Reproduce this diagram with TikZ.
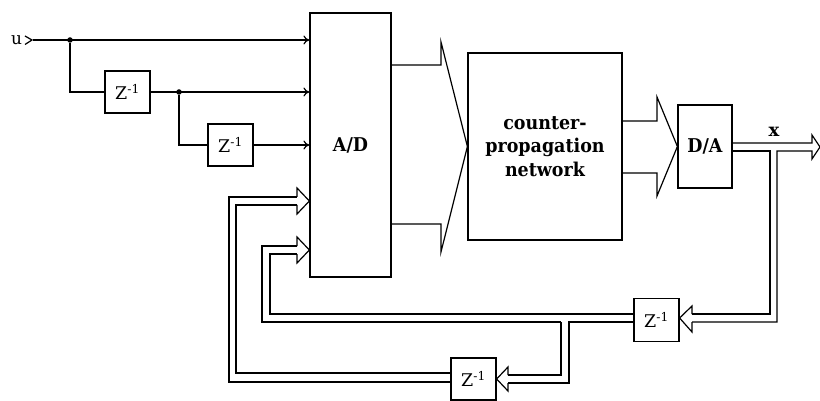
\documentclass[tikz,border=0pt]{standalone}
\usepackage{fontspec}
\setmainfont{DejaVu Serif}
\newfontfamily\lblfont[FakeStretch=0.92]{DejaVu Serif}
\usetikzlibrary{arrows.meta}
\begin{document}
\begin{tikzpicture}[x=1pt,y=-1pt,line width=1.2pt,line join=miter,
  zbox/.style={draw,inner sep=0pt,minimum width=45pt,minimum height=42pt,font=\fontsize{17.5}{20}\selectfont},
  sig/.style={-{To[length=6pt,width=9pt]}},
  dot/.style={circle,fill,inner sep=0pt,minimum size=5.5pt}]
\useasboundingbox (0,0) rectangle (820,401);
% nodes
\node[font=\fontsize{17}{20}\selectfont,inner sep=0pt] (u) at (16.5,40) {u};
\coordinate (uin) at (33,40);
\node[draw,inner sep=0pt,minimum width=81pt,minimum height=264pt,font=\lblfont\fontsize{19}{22}\selectfont\bfseries] (ad) at (350.5,145) {A/D};
\node[draw,inner sep=0pt,minimum width=154pt,minimum height=187pt,align=center,font=\lblfont\fontsize{19}{23.5}\selectfont\bfseries] (net) at (545,146.5) {counter-\\propagation\\network};
\node[draw,inner sep=0pt,minimum width=54pt,minimum height=83pt,font=\lblfont\fontsize{19}{22}\selectfont\bfseries] (da) at (705,146.5) {D/A};
\node[zbox] (z1) at (127.5,92) {Z\textsuperscript{-1}};
\node[zbox] (z2) at (230.5,145) {Z\textsuperscript{-1}};
\node[zbox,minimum height=43pt] (z3) at (656.5,320) {Z\textsuperscript{-1}};
\node[zbox] (z4) at (473.5,379) {Z\textsuperscript{-1}};
\node[font=\fontsize{18}{20}\selectfont\bfseries,inner sep=0pt] (xl) at (774,132) {x};
\node[dot] (j1) at (70,40) {};
\node[dot] (j2) at (179,92) {};
% input chevron
\draw (25,36) -- (32,40) -- (25,44.5);
% thin signal lines
\draw[sig] (uin) -- (ad.west |- uin);
\draw (j1) |- (z1.west);
\draw[sig] (z1.east) -- (ad.west |- z1.east);
\draw (j2) |- (z2.west);
\draw[sig] (z2.east) -- (ad.west |- z2.east);
% wide arrow A/D -> network
\draw (ad.east |- 0,65) -- (441,65) -- (441,42) -- (net.west) -- (441,252) -- (441,224) -- (ad.east |- 0,224);
% wide arrow network -> D/A
\draw (net.east |- 0,121) -- (657,121) -- (657,97) -- (da.west) -- (657,196) -- (657,173) -- (net.east |- 0,173);
% output pipe x
\draw (da.east |- 0,143) -- (812,143) -- (812,135) -- (820,147) -- (812,159) -- (812,151) -- (777,151) -- (777,322) -- (692,322);
\draw (da.east |- 0,151) -- (770,151) -- (770,314) -- (692,314);
\draw (692,314) -- (692,306) -- (z3.east |- 0,318) -- (692,332) -- (692,322);
% from Z3 (left side)
\draw (z3.west |- 0,314) -- (270,314) -- (270,254) -- (297,254);
\draw (z3.west |- 0,322) -- (569,322) -- (569,383) -- (508,383);
\draw (561,322) -- (262,322) -- (262,246) -- (297,246);
\draw (561,322) -- (561,375) -- (508,375);
\draw (508,375) -- (508,367) -- (z4.east) -- (508,391) -- (508,383);
\draw (297,246) -- (297,237) -- (ad.west |- 0,250) -- (297,263) -- (297,254);
% from Z4
\draw (z4.west |- 0,373) -- (236,373) -- (236,205) -- (297,205);
\draw (z4.west |- 0,382) -- (229,382) -- (229,197) -- (297,197);
\draw (297,197) -- (297,188) -- (ad.west |- 0,201) -- (297,214) -- (297,205);
\end{tikzpicture}
\end{document}
